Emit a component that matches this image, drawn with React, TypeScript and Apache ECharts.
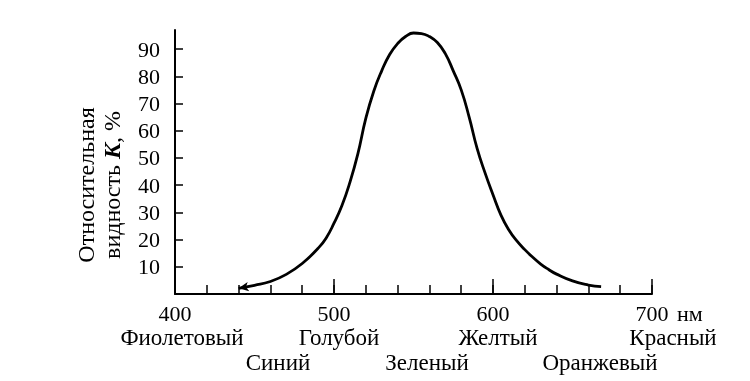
import React, { useEffect, useRef } from "react";
import * as echarts from "echarts";

const wavelengths = [440, 450, 460, 470, 480, 490, 495, 500, 505, 510, 515, 520, 525, 530, 535, 540, 545, 550, 555, 560, 565, 570, 575, 580, 585, 590, 595, 600, 605, 610, 615, 620, 625, 630, 635, 640, 650, 660, 668];
const visibility = [2.1, 3.2, 4.6, 7.2, 11.2, 16.8, 20.5, 26, 32.5, 41, 51.5, 64.5, 74.5, 82, 88, 92, 94.6, 95.9, 95.7, 94.6, 92.4, 88.3, 82, 75, 65, 53.5, 44.5, 36.5, 29, 23.5, 19.5, 16.3, 13.5, 11, 9, 7.3, 4.8, 3.3, 2.7];
const xTickValues = [400, 420, 440, 460, 480, 500, 520, 540, 560, 580, 600, 620, 640, 660, 680, 700];
const xMajorTicks = [500, 600, 700];
const xLabelValues = [400, 500, 600, 700];
const yTickValues = [10, 20, 30, 40, 50, 60, 70, 80, 90];
const colorRow1 = ["Фиолетовый", "Голубой", "Желтый", "Красный"];
const colorRow2 = ["Синий", "Зеленый", "Оранжевый"];
const yNameLine1 = "Относительная";
const yNameLine2 = "видность {k|K}, %";

const FONT = '"Liberation Serif", "DejaVu Serif", serif';

export default function App() {
  const ref = useRef<HTMLDivElement>(null);
  useEffect(() => {
    if (!ref.current) return;
    const chart = echarts.init(ref.current, null, { renderer: "svg" });
    const row1X = [182, 339, 498, 673];
    const row2X = [278, 427, 600];
    const textStyle = (text: string, x: number, y: number) => ({
      type: "text",
      x,
      y,
      style: { text, fill: "#000", fontSize: 23, lineHeight: 20, fontFamily: FONT, align: "center", verticalAlign: "middle" },
    });
    const graphics: any[] = [];
    colorRow1.forEach((t, i) => graphics.push(textStyle(t, row1X[i], 337)));
    colorRow2.forEach((t, i) => graphics.push(textStyle(t, row2X[i], 362)));
    graphics.push({
      type: "text",
      x: 677,
      y: 313,
      style: { text: "нм", fill: "#000", fontSize: 22, lineHeight: 20, fontFamily: FONT, align: "left", verticalAlign: "middle" },
    });
    graphics.push({
      type: "text",
      x: 86,
      y: 185,
      rotation: Math.PI / 2,
      style: { text: yNameLine1, fill: "#000", fontSize: 24, lineHeight: 22, fontFamily: FONT, align: "center", verticalAlign: "middle" },
    });
    graphics.push({
      type: "text",
      x: 112,
      y: 185,
      rotation: Math.PI / 2,
      style: {
        text: yNameLine2,
        fill: "#000",
        fontSize: 24,
        lineHeight: 22,
        fontFamily: FONT,
        align: "center",
        verticalAlign: "middle",
        rich: { k: { fontStyle: "italic", fontWeight: "bold", fontSize: 24, lineHeight: 22, fontFamily: FONT, fill: "#000" } },
      },
    });

    chart.setOption({
      animation: false,
      grid: { left: 175, right: 98, top: 30, bottom: 87 },
      xAxis: [
        {
          type: "value",
          min: 400,
          max: 700,
          interval: 20,
          axisLine: { show: true, lineStyle: { color: "#000", width: 2 } },
          axisTick: { show: true, inside: true, length: 9, customValues: xTickValues, lineStyle: { color: "#000", width: 1.5 } },
          axisLabel: {
            show: true,
            customValues: xLabelValues,
            margin: 9,
            color: "#000",
            fontSize: 22,
            lineHeight: 20,
            fontFamily: FONT,
            formatter: (v: number) => String(v),
          },
          splitLine: { show: false },
        },
        {
          type: "value",
          min: 400,
          max: 700,
          interval: 100,
          position: "bottom",
          axisLine: { show: false },
          axisTick: { show: true, inside: true, length: 15, customValues: xMajorTicks, lineStyle: { color: "#000", width: 1.5 } },
          axisLabel: { show: false },
          splitLine: { show: false },
        },
      ],
      yAxis: {
        type: "value",
        min: 0,
        max: 97,
        interval: 10,
        axisLine: { show: true, lineStyle: { color: "#000", width: 2 } },
        axisTick: { show: true, inside: true, length: 8, customValues: yTickValues, lineStyle: { color: "#000", width: 1.5 } },
        axisLabel: {
          show: true,
          customValues: yTickValues,
          margin: 15,
          color: "#000",
          fontSize: 22,
          fontFamily: FONT,
        },
        splitLine: { show: false },
      },
      series: [
        {
          type: "line",
          smooth: 0.5,
          showSymbol: true,
          symbol: "none",
          lineStyle: { color: "#000", width: 2.8 },
          data: wavelengths.map((w, i) =>
            i === 0
              ? { value: [w, visibility[i]], symbol: "arrow", symbolSize: [7, 10], symbolRotate: 100, itemStyle: { color: "#000" } }
              : [w, visibility[i]]
          ),
        },
      ],
      graphic: graphics,
    });
    return () => chart.dispose();
  }, []);
  return <div ref={ref} style={{ position: "fixed", left: 0, top: 0, width: 750, height: 381 }} />;
}
